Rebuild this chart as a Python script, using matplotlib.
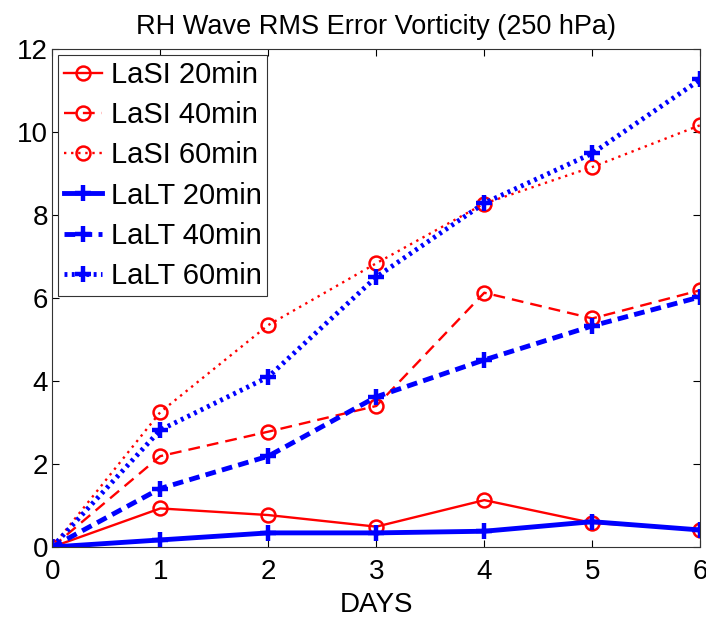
import matplotlib.pyplot as plt

plt.rcParams['font.family'] = ['Liberation Sans', 'DejaVu Sans']

days = [0, 1, 2, 3, 4, 5, 6]

lasi_20 = [0.0, 0.93, 0.77, 0.49, 1.13, 0.58, 0.42]
lasi_40 = [0.0, 2.19, 2.78, 3.40, 6.13, 5.51, 6.19]
lasi_60 = [0.0, 3.25, 5.35, 6.84, 8.28, 9.16, 10.17]
lalt_20 = [0.0, 0.17, 0.34, 0.34, 0.38, 0.61, 0.41]
lalt_40 = [0.0, 1.41, 2.19, 3.62, 4.51, 5.33, 6.03]
lalt_60 = [0.0, 2.82, 4.10, 6.51, 8.29, 9.49, 11.27]

fig = plt.figure(figsize=(7.06, 6.23), dpi=100)
ax = fig.add_axes([0.074, 0.122, 0.918, 0.799])

red = '#ff0000'
blue = '#0000ff'
circ = dict(marker='o', markersize=10, markerfacecolor='none', markeredgewidth=1.8)
plus = dict(marker='+', markersize=12, markeredgewidth=3.2)

ax.plot(days, lasi_20, color=red, lw=1.7, ls='-', label='LaSI 20min', **circ)
ax.plot(days, lasi_40, color=red, lw=1.7, ls=(0, (5, 3)), label='LaSI 40min', **circ)
ax.plot(days, lasi_60, color=red, lw=1.7, ls=(0, (1, 2)), label='LaSI 60min', **circ)
ax.plot(days, lalt_20, color=blue, lw=3.5, ls='-', label='LaLT 20min', **plus)
ax.plot(days, lalt_40, color=blue, lw=3.5, ls=(0, (2.2, 1.3)), label='LaLT 40min', **plus)
ax.plot(days, lalt_60, color=blue, lw=3.5, ls=(0, (0.6, 0.9)), label='LaLT 60min', **plus)

ax.set_xlim(0, 6)
ax.set_ylim(0, 12)
ax.set_xticks(days)
ax.set_yticks([0, 2, 4, 6, 8, 10, 12])
ax.tick_params(direction='in', top=True, right=True, length=5, labelsize=20, width=0.8)
ax.tick_params(axis='x', pad=9)
ax.tick_params(axis='y', pad=3)
for s in ax.spines.values():
    s.set_linewidth(0.8)
    s.set_color('#333333')

ax.set_xlabel('DAYS', fontsize=20, labelpad=5)
ax.set_title('RH Wave RMS Error Vorticity (250 hPa)', fontsize=19.5, pad=11)

leg = ax.legend(loc='upper left', fontsize=21, fancybox=False, edgecolor='#333333',
                framealpha=1, borderaxespad=0.2, handlelength=1.3, handletextpad=0.3,
                labelspacing=0.42, borderpad=0.2)
leg.get_frame().set_linewidth(0.8)

fig.savefig('out.png', dpi=100)
